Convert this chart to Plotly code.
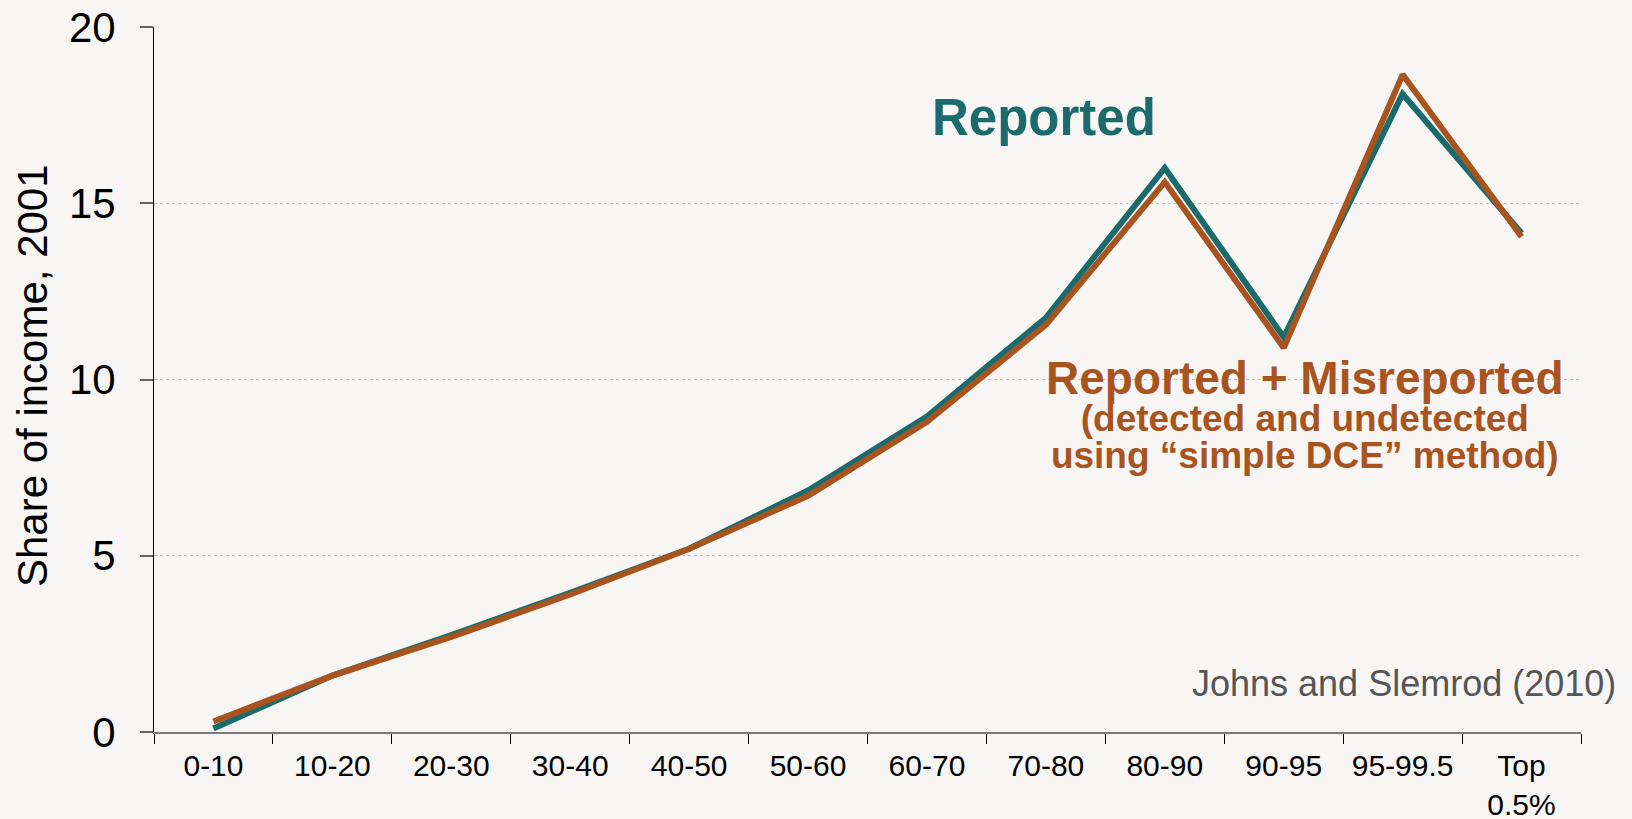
import plotly.graph_objects as go

# Income groups (percentiles of the income distribution)
categories = ["0-10", "10-20", "20-30", "30-40", "40-50", "50-60",
              "60-70", "70-80", "80-90", "90-95", "95-99.5", "Top<br>0.5%"]

# Share of income, 2001 (%)
reported = [0.1, 1.6, 2.75, 3.95, 5.2, 6.85, 8.95, 11.75, 16.0, 11.2, 18.1, 14.15]
reported_plus_misreported = [0.3, 1.6, 2.7, 3.9, 5.2, 6.7, 8.8, 11.55, 15.6, 10.9, 18.65, 14.05]

y_ticks = [0, 5, 10, 15, 20]

TEAL = "#1b6b6d"
ORANGE = "#a9541f"
BG = "#f7f6f4"
FONT = "Liberation Sans, Arial, sans-serif"

# plot-area geometry in pixels
L, R, T, B = 153.5, 51, 27, 87.3
W, H = 1632, 819
PW = W - L - R


def px_to_paper_x(px):
    return (px - L) / PW


fig = go.Figure()
fig.add_trace(go.Scatter(
    x=categories, y=reported, mode="lines",
    line=dict(color=TEAL, width=6), name="Reported",
))
fig.add_trace(go.Scatter(
    x=categories, y=reported_plus_misreported, mode="lines",
    line=dict(color=ORANGE, width=6), name="Reported + Misreported",
))

fig.update_layout(
    width=W, height=H,
    margin=dict(l=L, r=R, t=T, b=B, autoexpand=False),
    paper_bgcolor=BG, plot_bgcolor=BG,
    showlegend=False,
    font=dict(family=FONT, color="#000000"),
)

fig.update_xaxes(
    type="category",
    range=[-0.5, len(categories) - 0.5],
    tickson="boundaries",
    ticks="outside", ticklen=10, tickwidth=1, tickcolor="#000000",
    showline=True, linecolor="#7a7a7a", linewidth=2,
    showgrid=False, zeroline=False,
    tickfont=dict(size=30, color="#000000"),
    ticklabelstandoff=6,
    automargin=False,
)

fig.update_yaxes(
    range=[0, 20],
    tickvals=y_ticks, ticktext=[str(v) for v in y_ticks],
    ticks="outside", ticklen=13, tickwidth=1.5, tickcolor="#666666",
    showline=True, linecolor="#000000", linewidth=1,
    showgrid=True, gridcolor="#c4c4c4", gridwidth=1, griddash="dot",
    zeroline=False,
    tickfont=dict(size=42, color="#000000"),
    ticklabelstandoff=16,
    automargin=False,
)

misreported_label = (
    "<b><span style='font-size:46px'>Reported + Misreported</span></b><br>"
    "<b><span style='font-size:37px'>(detected and undetected</span></b><br>"
    "<b><span style='font-size:37px'>using \u201csimple DCE\u201d method)</span></b>"
)

annotations = [
    dict(text="Share of income, 2001", textangle=-90,
         xref="paper", yref="paper", x=px_to_paper_x(32.5), y=0.505,
         xanchor="center", yanchor="middle", showarrow=False,
         font=dict(size=42, color="#000000")),
    dict(text="<b>Reported</b>",
         xref="x", yref="y", x=6.98, y=17.44,
         xanchor="center", yanchor="middle", showarrow=False,
         font=dict(size=51, color=TEAL)),
    dict(text=misreported_label,
         xref="paper", yref="y", x=px_to_paper_x(1305), y=9.02,
         xanchor="center", yanchor="middle", showarrow=False,
         align="center",
         font=dict(size=28.5, color=ORANGE)),
    dict(text="Johns and Slemrod (2010)",
         xref="paper", yref="paper", x=px_to_paper_x(1618), y=0.0685,
         xanchor="right", yanchor="middle", showarrow=False,
         font=dict(size=36, color="#555555")),
]
fig.update_layout(annotations=annotations)

fig.write_html("out.html")
